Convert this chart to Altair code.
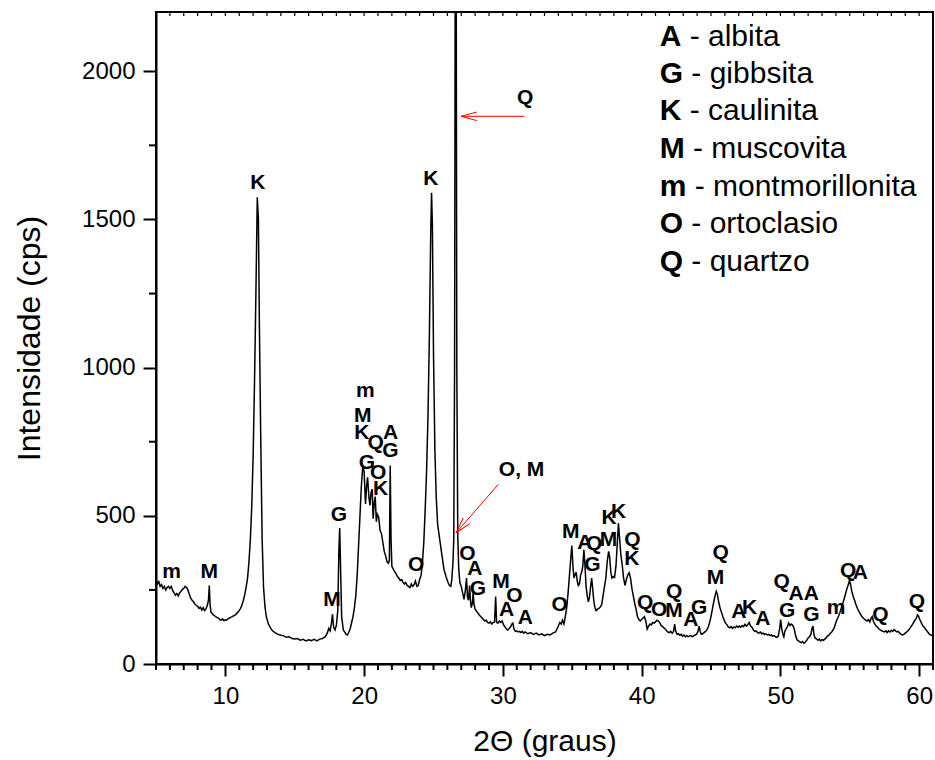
import altair as alt
import pandas as pd

# ---- diffraction pattern ----
two_theta = [
    5.0, 5.1, 5.2, 5.3, 5.4, 5.5, 5.6, 5.7, 5.8, 5.9,
    6.0, 6.1, 6.2, 6.3, 6.4, 6.5, 6.6, 6.7, 6.8, 6.9,
    7.0, 7.1, 7.2, 7.3, 7.4, 7.5, 7.6, 7.7, 7.8, 7.9,
    8.0, 8.1, 8.2, 8.3, 8.4, 8.5, 8.6, 8.7, 8.78, 8.84,
    8.9, 8.96, 9.05, 9.15, 9.25, 9.35, 9.5, 9.6, 9.7, 9.8,
    9.9, 10.0, 10.1, 10.2, 10.3, 10.4, 10.5, 10.6, 10.7, 10.8,
    10.9, 11.0, 11.1, 11.2, 11.3, 11.4, 11.5, 11.6, 11.7, 11.8,
    11.9, 12.0, 12.1, 12.2, 12.3, 12.38, 12.45, 12.55, 12.65, 12.75,
    12.85, 12.95, 13.1, 13.25, 13.4, 13.6, 13.8, 14.0, 14.2, 14.4,
    14.6, 14.8, 15.0, 15.2, 15.4, 15.6, 15.8, 16.0, 16.2, 16.4,
    16.6, 16.8, 17.0, 17.2, 17.35, 17.45, 17.55, 17.65, 17.72, 17.8,
    17.9, 18.0, 18.1, 18.18, 18.24, 18.3, 18.38, 18.5, 18.6, 18.7,
    18.8, 18.9, 19.0, 19.1, 19.2, 19.3, 19.4, 19.5, 19.6, 19.7,
    19.8, 19.9, 20.0, 20.1, 20.18, 20.25, 20.35, 20.42, 20.5, 20.58,
    20.65, 20.72, 20.8, 20.88, 20.95, 21.05, 21.15, 21.25, 21.35, 21.45,
    21.55, 21.65, 21.75, 21.82, 21.88, 21.94, 22.0, 22.1, 22.2, 22.3,
    22.4, 22.5, 22.6, 22.7, 22.8, 22.9, 23.0, 23.1, 23.2, 23.3,
    23.4, 23.5, 23.6, 23.7, 23.8, 23.9, 24.0, 24.1, 24.2, 24.3,
    24.4, 24.5, 24.6, 24.7, 24.8, 24.86, 24.92, 25.0, 25.1, 25.2,
    25.3, 25.45, 25.6, 25.75, 25.9, 26.05, 26.15, 26.25, 26.32, 26.4,
    26.46, 26.52, 26.57, 26.63, 26.68, 26.75, 26.82, 26.9, 27.0, 27.1,
    27.2, 27.3, 27.38, 27.45, 27.52, 27.6, 27.66, 27.72, 27.8, 27.86,
    27.92, 28.0, 28.1, 28.2, 28.3, 28.4, 28.5, 28.6, 28.7, 28.8,
    28.9, 29.0, 29.1, 29.2, 29.3, 29.4, 29.48, 29.55, 29.65, 29.75,
    29.85, 29.95, 30.05, 30.15, 30.25, 30.35, 30.45, 30.55, 30.65, 30.72,
    30.8, 30.9, 31.0, 31.1, 31.2, 31.3, 31.4, 31.5, 31.6, 31.8,
    32.0, 32.2, 32.4, 32.6, 32.8, 33.0, 33.2, 33.4, 33.6, 33.8,
    33.9, 34.0, 34.1, 34.2, 34.3, 34.4, 34.5, 34.6, 34.7, 34.8,
    34.9, 34.97, 35.05, 35.12, 35.2, 35.28, 35.36, 35.44, 35.52, 35.6,
    35.68, 35.76, 35.84, 35.92, 36.0, 36.08, 36.16, 36.24, 36.32, 36.4,
    36.48, 36.56, 36.64, 36.72, 36.82, 36.92, 37.02, 37.12, 37.22, 37.32,
    37.42, 37.52, 37.62, 37.7, 37.78, 37.86, 37.95, 38.05, 38.15, 38.25,
    38.33, 38.4, 38.5, 38.6, 38.7, 38.8, 38.9, 39.0, 39.1, 39.2,
    39.3, 39.4, 39.5, 39.6, 39.7, 39.8, 39.9, 40.0, 40.1, 40.2,
    40.3, 40.4, 40.5, 40.6, 40.7, 40.8, 40.9, 41.0, 41.1, 41.2,
    41.3, 41.4, 41.5, 41.6, 41.7, 41.8, 41.9, 42.0, 42.1, 42.2,
    42.3, 42.38, 42.45, 42.55, 42.65, 42.75, 42.85, 42.95, 43.05, 43.15,
    43.25, 43.35, 43.45, 43.55, 43.65, 43.75, 43.85, 43.95, 44.05, 44.15,
    44.22, 44.3, 44.4, 44.5, 44.6, 44.7, 44.8, 44.9, 45.0, 45.1,
    45.2, 45.3, 45.38, 45.46, 45.55, 45.65, 45.75, 45.85, 45.95, 46.05,
    46.15, 46.25, 46.35, 46.45, 46.55, 46.65, 46.75, 46.85, 46.95, 47.05,
    47.15, 47.25, 47.35, 47.45, 47.55, 47.65, 47.75, 47.85, 47.95, 48.05,
    48.15, 48.25, 48.35, 48.45, 48.55, 48.65, 48.75, 48.85, 48.95, 49.05,
    49.15, 49.25, 49.35, 49.45, 49.55, 49.65, 49.75, 49.85, 49.95, 50.02,
    50.1, 50.18, 50.25, 50.32, 50.4, 50.5, 50.6, 50.7, 50.8, 50.9,
    51.0, 51.1, 51.2, 51.3, 51.4, 51.5, 51.6, 51.7, 51.8, 51.9,
    52.0, 52.1, 52.2, 52.28, 52.35, 52.42, 52.5, 52.6, 52.7, 52.8,
    52.9, 53.0, 53.1, 53.2, 53.3, 53.4, 53.5, 53.6, 53.7, 53.8,
    53.9, 54.0, 54.1, 54.2, 54.3, 54.4, 54.5, 54.6, 54.7, 54.8,
    54.9, 54.98, 55.05, 55.15, 55.25, 55.35, 55.45, 55.55, 55.65, 55.75,
    55.85, 55.95, 56.05, 56.15, 56.25, 56.35, 56.45, 56.55, 56.62, 56.7,
    56.8, 56.9, 57.0, 57.1, 57.2, 57.3, 57.4, 57.5, 57.6, 57.7,
    57.8, 57.9, 58.0, 58.1, 58.2, 58.3, 58.4, 58.5, 58.6, 58.7,
    58.8, 58.9, 59.0, 59.1, 59.2, 59.3, 59.4, 59.5, 59.6, 59.7,
    59.8, 59.88, 59.95, 60.05, 60.15, 60.25, 60.35, 60.45, 60.55, 60.65,
    60.75, 60.85, 61.0,
]
intensity_cps = [
    285, 270, 278, 262, 268, 255, 262, 250, 258, 262,
    255, 262, 248, 240, 232, 238, 230, 240, 245, 252,
    255, 262, 258, 250, 235, 222, 215, 210, 202, 198,
    195, 188, 192, 182, 190, 180, 186, 198, 215, 265,
    200, 175, 170, 165, 162, 158, 155, 150, 148, 152,
    146, 150, 148, 153, 155, 158, 160, 163, 165, 170,
    175, 180, 188, 200, 215, 235, 260, 290, 345, 420,
    530, 700, 950, 1250, 1575, 1500, 1150, 760, 420, 260,
    195, 160, 135, 122, 112, 105, 100, 97, 95, 90,
    92, 86, 84, 86, 80, 83, 78, 82, 79, 83,
    78, 84, 86, 92, 105, 120, 112, 140, 168, 125,
    115, 130, 180, 380, 459, 330, 160, 115, 108, 100,
    98, 108, 120, 140, 160, 190, 230, 300, 400, 500,
    600, 665, 650, 540, 600, 630, 560, 535, 580, 590,
    490, 540, 565, 480, 505, 495, 450, 440, 410, 380,
    365, 345, 340, 350, 670, 420, 330, 320, 312, 305,
    295, 290, 282, 285, 276, 270, 275, 265, 262, 258,
    270, 262, 268, 280, 262, 265, 285, 298, 340, 410,
    520, 650, 830, 1100, 1450, 1590, 1480, 1050, 720, 560,
    470, 420, 370, 320, 295, 275, 265, 262, 285, 340,
    420, 1000, 2500, 2500, 1000, 430, 320, 275, 262, 240,
    218, 250, 290, 225, 215, 265, 215, 190, 205, 240,
    200, 185, 178, 172, 165, 160, 155, 150, 145, 148,
    140, 138, 142, 135, 140, 142, 228, 140, 138, 145,
    140, 145, 132, 125, 118, 115, 120, 125, 135, 138,
    118, 110, 112, 108, 110, 106, 110, 104, 108, 102,
    106, 100, 104, 98, 102, 96, 100, 98, 104, 108,
    118, 128, 140, 135, 148, 135, 160, 190, 240, 300,
    360, 400, 330, 290, 300, 310, 280, 265, 270, 300,
    310, 330, 385, 330, 260, 230, 210, 225, 260, 290,
    250, 210, 190, 180, 185, 188, 192, 200, 230, 260,
    290, 345, 380, 360, 310, 290, 295, 292, 330, 410,
    475, 430, 370, 335, 290, 265, 285, 300, 308, 290,
    255, 230, 205, 185, 160, 150, 145, 150, 155, 160,
    145, 118, 128, 135, 132, 140, 138, 142, 148, 145,
    140, 130, 127, 122, 118, 112, 108, 106, 110, 104,
    110, 135, 112, 100, 102, 97, 100, 94, 98, 92,
    96, 92, 94, 96, 92, 95, 98, 100, 108, 128,
    110, 100, 102, 106, 110, 115, 125, 140, 160, 185,
    210, 232, 245, 235, 210, 190, 175, 160, 148, 138,
    132, 125, 122, 126, 120, 125, 122, 128, 124, 128,
    124, 130, 126, 134, 128, 132, 140, 128, 124, 115,
    110, 112, 106, 104, 108, 102, 104, 100, 102, 98,
    100, 96, 98, 94, 96, 92, 90, 94, 120, 150,
    118, 100, 92, 110, 118, 125, 138, 130, 135, 130,
    118, 95, 82, 78, 75, 72, 76, 70, 74, 80,
    88, 92, 100, 120, 128, 100, 88, 85, 80, 84,
    78, 82, 80, 84, 88, 94, 98, 104, 108, 115,
    125, 140, 152, 162, 175, 190, 205, 220, 238, 255,
    268, 282, 270, 245, 228, 215, 200, 188, 178, 170,
    162, 156, 152, 148, 145, 150, 142, 155, 160, 145,
    135, 128, 124, 118, 115, 112, 110, 108, 112, 106,
    112, 108, 114, 110, 116, 112, 108, 110, 104, 100,
    98, 100, 104, 108, 112, 118, 125, 132, 140, 148,
    155, 165, 162, 150, 140, 130, 125, 118, 112, 106,
    100, 98, 96,
]
assert len(two_theta) == len(intensity_cps), (len(two_theta), len(intensity_cps))

# ---- phase labels over the peaks ----
peak_labels = ["K", "K", "Q", "m", "M", "M", "G", "m", "M", "K",
               "Q", "A", "G", "G", "O", "K", "O", "O", "A", "G",
               "M", "A", "O", "A", "O, M", "O", "M", "A", "Q", "G",
               "K", "M", "K", "Q", "K", "Q", "O", "Q", "M", "A",
               "G", "Q", "M", "A", "K", "A", "Q", "G", "A", "A",
               "G", "m", "Q", "A", "Q", "Q"]
label_theta = [12.34, 24.8, 31.6, 6.13, 8.84, 17.68, 18.19, 20.09, 19.9, 19.84,
               20.83, 21.9, 21.9, 20.21, 21.02, 21.19, 23.75, 27.45, 27.98, 28.2,
               29.87, 30.27, 30.83, 31.62, 31.35, 34.1, 34.9, 35.91, 36.58, 36.46,
               37.66, 37.61, 38.33, 39.34, 39.29, 40.25, 41.26, 42.34, 42.34, 43.54,
               44.14, 45.7, 45.33, 47.0, 47.78, 48.74, 50.09, 50.49, 51.13, 52.23,
               52.23, 54.01, 54.88, 55.77, 57.21, 59.84]
label_cps = [1622, 1636, 1909, 311, 311, 216, 502, 922, 836, 778,
             746, 780, 719, 679, 643, 592, 334, 371, 319, 252,
             278, 182, 229, 154, 654, 200, 446, 409, 405, 334,
             491, 418, 514, 418, 353, 205, 182, 244, 180, 148,
             188, 373, 289, 177, 188, 151, 278, 180, 236, 236,
             165, 188, 315, 306, 165, 210]

# ---- key in the upper right ----
key_letters = ["A", "G", "K", "M", "m", "O", "Q"]
key_names = ["albita", "gibbsita", "caulinita", "muscovita",
             "montmorillonita", "ortoclasio", "quartzo"]
key_cps = [2115, 1990, 1866, 1737, 1610, 1484, 1355]
key_theta = 41.3

# ---- red arrows (tail -> tip) ----
arrow_theta_tail = [31.55, 29.67]
arrow_cps_tail = [1848, 606]
arrow_theta_tip = [26.98, 26.63]
arrow_cps_tip = [1848, 443]
arrow_angle = [0, 311]

# ---- axes ----
x_major = [10, 20, 30, 40, 50, 60]
x_minor = [v for v in range(5, 62) if v % 10 != 0]
x_top = list(range(5, 62))
y_major = [0, 500, 1000, 1500, 2000]
y_minor = [250, 750, 1250, 1750]

W, H = 777, 652
FONT = "Liberation Sans"
NBSP = "\u00a0"
KEY_SIZE = 30
xs = alt.Scale(domain=[5, 61], nice=False, zero=False)
ys = alt.Scale(domain=[0, 2200], nice=False, zero=True)

df = pd.DataFrame({"t": two_theta, "i": intensity_cps})

line = alt.Chart(df).mark_line(color="black", strokeWidth=1.5, clip=True).encode(
    x=alt.X("t:Q", scale=xs,
            axis=alt.Axis(values=x_major, title="2Θ (graus)", format="d",
                          tickSize=12, titlePadding=18, titleFontSize=30)),
    y=alt.Y("i:Q", scale=ys,
            axis=alt.Axis(values=y_major, title="Intensidade (cps)", format="d",
                          tickSize=13, titlePadding=35, titleFontSize=32)),
)

minor_x = alt.Chart(pd.DataFrame({"t": x_minor})).mark_rule(
    color="black", strokeWidth=2).encode(
    x=alt.X("t:Q", scale=xs), y=alt.value(H), y2=alt.value(H + 6))

top_x = alt.Chart(pd.DataFrame({"t": x_top})).mark_rule(
    color="black", strokeWidth=1.2).encode(
    x=alt.X("t:Q", scale=xs), y=alt.value(0), y2=alt.value(4))

minor_y = alt.Chart(pd.DataFrame({"i": y_minor})).mark_rule(
    color="black", strokeWidth=2).encode(
    y=alt.Y("i:Q", scale=ys), x=alt.value(-7), x2=alt.value(0))

labels = alt.Chart(pd.DataFrame({"t": label_theta, "i": label_cps, "lab": peak_labels})).mark_text(
    font=FONT, fontSize=21, fontWeight="bold", color="black",
    align="center", baseline="middle").encode(
    x=alt.X("t:Q", scale=xs), y=alt.Y("i:Q", scale=ys), text="lab:N")

letter_em = {"A": 0.722, "G": 0.778, "K": 0.722, "M": 0.833, "m": 0.889, "O": 0.778, "Q": 0.778}
px_per_unit = W / (61 - 5)
key_df = pd.DataFrame({
    "t": [key_theta] * len(key_letters),
    "t2": [key_theta + (letter_em[l] + 0.278) * KEY_SIZE / px_per_unit for l in key_letters],
    "i": key_cps,
    "letter": key_letters,
    "name": ["-" + NBSP + n for n in key_names],
})
key_letter = alt.Chart(key_df).mark_text(
    font=FONT, fontSize=KEY_SIZE, fontWeight="bold", color="black",
    align="left", baseline="middle").encode(
    x=alt.X("t:Q", scale=xs), y=alt.Y("i:Q", scale=ys), text="letter:N")
key_name = alt.Chart(key_df).mark_text(
    font=FONT, fontSize=KEY_SIZE, color="black",
    align="left", baseline="middle").encode(
    x=alt.X("t2:Q", scale=xs), y=alt.Y("i:Q", scale=ys), text="name:N")

arr_df = pd.DataFrame({"t": arrow_theta_tail, "i": arrow_cps_tail,
                       "t2": arrow_theta_tip, "i2": arrow_cps_tip, "ang": arrow_angle})
arrow_lines = alt.Chart(arr_df).mark_rule(color="#ff0000", strokeWidth=1).encode(
    x=alt.X("t:Q", scale=xs), x2="t2:Q", y=alt.Y("i:Q", scale=ys), y2="i2:Q")
arrow_heads = alt.Chart(arr_df).mark_point(
    shape="M 0 0 L 1 -0.27 M 0 0 L 1 0.27", size=1000, filled=False,
    color="#ff0000", strokeWidth=1, opacity=1).encode(
    x=alt.X("t2:Q", scale=xs), y=alt.Y("i2:Q", scale=ys),
    angle=alt.Angle("ang:Q", scale=None))

chart = alt.layer(
    line, minor_x, top_x, minor_y, labels, key_letter, key_name, arrow_lines, arrow_heads
).properties(
    width=W, height=H,
    autosize=alt.AutoSizeParams(type="none"),
    padding={"left": 156, "top": 12, "right": 2, "bottom": 96},
    background="white",
).configure_view(
    stroke="black", strokeWidth=2
).configure_axis(
    grid=False, domainColor="black", domainWidth=2, tickColor="black", tickWidth=2,
    labelFont=FONT, labelFontSize=24, labelColor="black", labelPadding=8,
    titleFont=FONT, titleFontSize=28, titleFontWeight="normal", titleColor="black",
)

chart.save("out.html", embed_options={"renderer": "svg", "actions": False})
